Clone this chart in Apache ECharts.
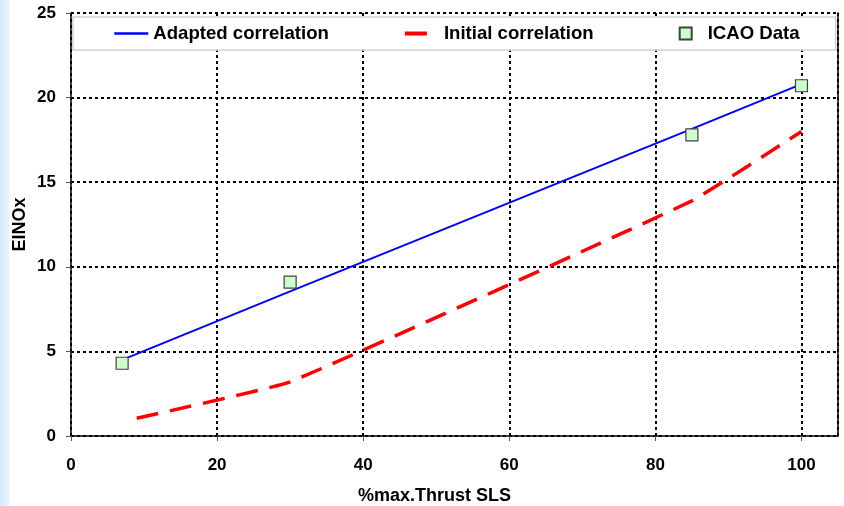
<!DOCTYPE html>
<html>
<head>
<meta charset="utf-8">
<script src="https://cdn.jsdelivr.net/npm/echarts@6/dist/echarts.min.js"></script>
<style>
  html, body { margin: 0; padding: 0; background: #fff; }
  #chart { width: 844px; height: 506px; }
</style>
</head>
<body>
<div id="chart"></div>
<script>
// thrust (% of max SLS) and EINOx values
const adaptedX = [7, 30, 85, 100]
const adaptedY = [4.5, 8.55, 18.15, 20.8]
const initialX = [9, 30, 85, 100]
const initialY = [1.05, 3.2, 13.9, 18.0]
const icaoX = [7, 30, 85, 100]
const icaoY = [4.3, 9.1, 17.8, 20.7]

const pairs = (xs, ys) => xs.map((x, i) => [x, ys[i]])

const font = 'Liberation Sans, Arial, sans-serif'
const dotted = { color: '#000', width: 2, type: [3, 3] }
const labelStyle = { fontSize: 17, fontWeight: 'bold', color: '#000', fontFamily: font }
const nameStyle = { fontSize: 18, fontWeight: 'bold', color: '#000', fontFamily: font }

const chart = echarts.init(document.getElementById('chart'))
chart.setOption({
  animation: false,
  backgroundColor: '#fff',
  textStyle: { fontFamily: font },
  graphic: [{
    type: 'rect',
    left: 0, top: 0,
    shape: { width: 12, height: 506 },
    style: {
      fill: new echarts.graphic.LinearGradient(0, 0, 1, 0, [
        { offset: 0, color: '#d6eafb' },
        { offset: 0.7, color: '#e8f3fd' },
        { offset: 1, color: 'rgba(255,255,255,0)' }
      ])
    },
    z: -10
  }],
  grid: { left: 71, right: 6, top: 13, bottom: 70, outerBoundsMode: 'none' },
  legend: {
    left: 73,
    top: 17,
    padding: [7, 36, 7, 40],
    itemWidth: 34,
    itemHeight: 12,
    itemGap: 74,
    backgroundColor: '#fff',
    borderColor: '#cfcfcf',
    borderWidth: 1.5,
    textStyle: { fontSize: 18.6, fontWeight: 'bold', color: '#000', fontFamily: font },
    data: [
      { name: 'Adapted correlation', itemStyle: { opacity: 0 }, lineStyle: { width: 2.5 } },
      { name: 'Initial correlation', itemStyle: { opacity: 0 }, lineStyle: { width: 4 } },
      // invisible moves pad the square so it sits centred in the 34px slot
      { name: 'ICAO Data', icon: 'path://M0,0M34,12M11,0L23,0L23,12L11,12Z' }
    ]
  },
  xAxis: {
    type: 'value',
    min: 0,
    max: 105,
    interval: 20,
    name: '%max.Thrust SLS',
    nameLocation: 'middle',
    nameGap: 51,
    nameMoveOverlap: false,
    nameTextStyle: Object.assign({ padding: [0, 40, 0, 0] }, nameStyle),
    axisLine: { lineStyle: { color: '#000', width: 1.5 } },
    axisTick: { show: true, length: 5, lineStyle: { color: '#555' } },
    axisLabel: Object.assign({
      margin: 21,
      showMaxLabel: false,
      formatter: v => (v % 20 === 0 ? String(v) : '')
    }, labelStyle),
    splitLine: { show: true, lineStyle: dotted }
  },
  yAxis: [{
    type: 'value',
    min: 0,
    max: 25,
    interval: 5,
    name: 'EINOx',
    nameLocation: 'middle',
    nameGap: 42,
    nameMoveOverlap: false,
    nameTextStyle: nameStyle,
    axisLine: { show: true, lineStyle: { color: '#000', width: 1.5 } },
    axisTick: { show: true, length: 5, lineStyle: { color: '#555' } },
    axisLabel: Object.assign({ margin: 15 }, labelStyle),
    splitLine: { show: true, lineStyle: dotted }
  }, {
    type: 'value',
    position: 'right',
    min: 0,
    max: 25,
    axisLine: { show: true, lineStyle: { color: '#000', width: 1.5 } },
    axisTick: { show: false },
    axisLabel: { show: false },
    splitLine: { show: false }
  }],
  series: [
    {
      name: 'Adapted correlation',
      type: 'line',
      data: pairs(adaptedX, adaptedY),
      showSymbol: false,
      symbol: 'none',
      lineStyle: { color: '#0000ff', width: 2 },
      itemStyle: { color: '#0000ff' },
      z: 3
    },
    {
      name: 'Initial correlation',
      type: 'line',
      data: pairs(initialX, initialY),
      showSymbol: false,
      symbol: 'none',
      smooth: 0.1,
      lineStyle: { color: '#ff0000', width: 3.5, type: [22, 12] },
      itemStyle: { color: '#ff0000' },
      z: 3
    },
    {
      name: 'ICAO Data',
      type: 'scatter',
      data: pairs(icaoX, icaoY),
      symbol: 'rect',
      symbolSize: 12,
      itemStyle: { color: '#ccffcc', borderColor: '#404040', borderWidth: 1.2, opacity: 1 },
      z: 5
    }
  ]
})
</script>
</body>
</html>
